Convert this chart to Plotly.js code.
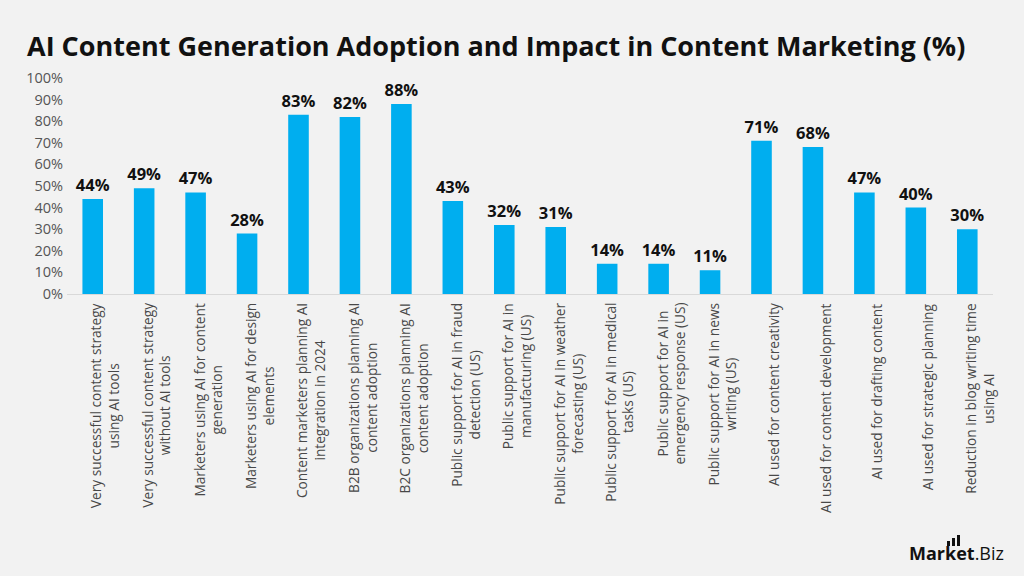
<!DOCTYPE html>
<html>
<head>
<meta charset="utf-8">
<script src="https://cdn.plot.ly/plotly-3.0.1.min.js"></script>
<style>html,body{margin:0;padding:0;background:#f2f2f2;}#chart{width:1024px;height:576px;}</style>
</head>
<body>
<div id="chart"></div>
<script>
const categories = [
  "Very successful content strategy<br>using AI tools",
  "Very successful content strategy<br>without AI tools",
  "Marketers using AI for content<br>generation",
  "Marketers using AI for design<br>elements",
  "Content marketers planning AI<br>integration in 2024",
  "B2B organizations planning AI<br>content adoption",
  "B2C organizations planning AI<br>content adoption",
  "Public support for AI in fraud<br>detection (US)",
  "Public support for AI in<br>manufacturing (US)",
  "Public support for AI in weather<br>forecasting (US)",
  "Public support for AI in medical<br>tasks (US)",
  "Public support for AI in<br>emergency response (US)",
  "Public support for AI in news<br>writing (US)",
  "AI used for content creativity",
  "AI used for content development",
  "AI used for drafting content",
  "AI used for strategic planning",
  "Reduction in blog writing time<br>using AI"
];
const values = [44, 49, 47, 28, 83, 82, 88, 43, 32, 31, 14, 14, 11, 71, 68, 47, 40, 30];
const yTickVals = [0, 10, 20, 30, 40, 50, 60, 70, 80, 90, 100];
const yTickText = ["0%", "10%", "20%", "30%", "40%", "50%", "60%", "70%", "80%", "90%", "100%"];
const chartTitle = "AI Content Generation Adoption and Impact in Content Marketing (%)";

const ids = categories.map((c, i) => i);

const trace = {
  type: "bar",
  x: ids,
  y: values,
  width: 0.4,
  marker: {color: "#00AEEF"},
  text: values.map(v => v + "%"),
  textposition: "outside",
  constraintext: "none",
  cliponaxis: false,
  textfont: {family: "Open Sans, sans-serif", size: 16.5, color: "#111", weight: 700},
  hoverinfo: "skip"
};

const catAnnotations = categories.map((c, i) => ({
  x: i, xref: "x", y: 0, yref: "paper",
  yanchor: "top", xanchor: "center", yshift: -7, xshift: 12,
  text: c, textangle: -90, showarrow: false, align: "center",
  font: {family: "Open Sans, sans-serif", size: 13.7, color: "#484848"}
}));

// logo helpers (paper coordinates from pixel positions)
const px = p => (p - 67) / 926;
const py = p => (294 - p) / 216;

const layout = {
  width: 1024, height: 576,
  paper_bgcolor: "#f2f2f2", plot_bgcolor: "#f2f2f2",
  margin: {l: 67, r: 31, t: 78, b: 282},
  showlegend: false,
  title: {
    text: "<b>" + chartTitle + "</b>",
    x: 27/1024, xanchor: "left", xref: "container",
    y: 1 - 47/576, yanchor: "middle", yref: "container",
    font: {family: "Open Sans, sans-serif", size: 27, color: "#111"}
  },
  xaxis: {
    range: [-0.5, categories.length - 0.5],
    showticklabels: false, showgrid: false, zeroline: false,
    showline: true, linecolor: "#d9d9d9", linewidth: 1, ticks: "", fixedrange: true
  },
  yaxis: {
    range: [0, 100], tickvals: yTickVals, ticktext: yTickText,
    showgrid: false, zeroline: false, showline: false, ticks: "",
    ticklabelstandoff: 3,
    tickfont: {family: "Open Sans, sans-serif", size: 14.5, color: "#555"},
    fixedrange: true
  },
  annotations: catAnnotations.concat([{
    x: px(1006), xref: "paper", y: py(553), yref: "paper",
    xanchor: "right", yanchor: "middle",
    text: "<b>Market</b>.Biz", showarrow: false,
    font: {family: "Open Sans, sans-serif", size: 18, color: "#111"}
  }]),
  shapes: [
    {type: "rect", xref: "paper", yref: "paper", x0: px(947), x1: px(950), y0: py(546), y1: py(541), fillcolor: "#111", line: {width: 0}},
    {type: "rect", xref: "paper", yref: "paper", x0: px(952), x1: px(955), y0: py(546), y1: py(538), fillcolor: "#111", line: {width: 0}},
    {type: "rect", xref: "paper", yref: "paper", x0: px(957), x1: px(960), y0: py(546), y1: py(535), fillcolor: "#111", line: {width: 0}}
  ]
};

Plotly.newPlot("chart", [trace], layout, {displayModeBar: false, staticPlot: true});
</script>
</body>
</html>
